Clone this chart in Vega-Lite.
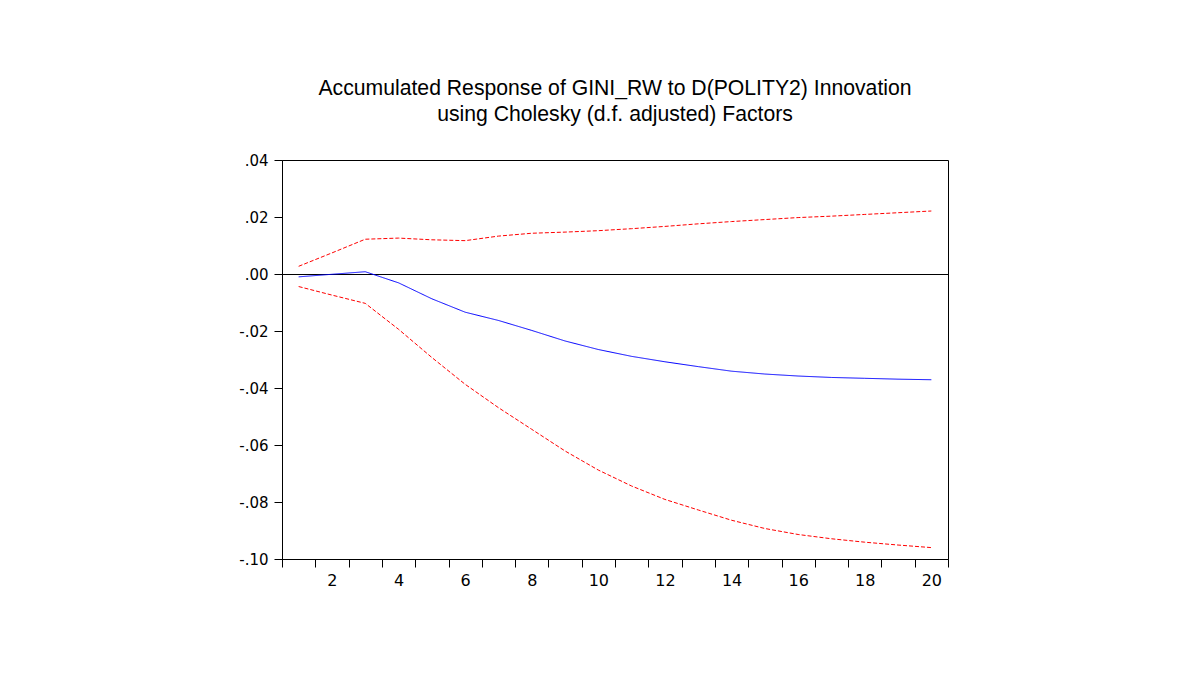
{
  "$schema": "https://vega.github.io/schema/vega-lite/v6.json",
  "width": 666,
  "height": 399,
  "autosize": "none",
  "padding": {"left": 282, "top": 160, "right": 233, "bottom": 139},
  "background": "white",
  "title": {
    "text": ["Accumulated Response of GINI_RW to D(POLITY2) Innovation", "using Cholesky (d.f. adjusted) Factors"],
    "anchor": "middle",
    "frame": "group",
    "font": "Liberation Sans",
    "fontSize": 21.2,
    "fontWeight": "normal",
    "color": "black",
    "lineHeight": 26,
    "offset": 28
  },
  "config": {
    "view": {"stroke": "black", "strokeWidth": 1},
    "axis": {
      "labelFont": "DejaVu Sans",
      "labelColor": "black",
      "domainColor": "black",
      "tickColor": "black",
      "grid": false,
      "title": null
    }
  },
  "data": {
    "values": [
      {"period": 1, "series": "Response", "value": -0.0010},
      {"period": 2, "series": "Response", "value": -0.0001},
      {"period": 3, "series": "Response", "value": 0.0008},
      {"period": 4, "series": "Response", "value": -0.0031},
      {"period": 5, "series": "Response", "value": -0.0087},
      {"period": 6, "series": "Response", "value": -0.0134},
      {"period": 7, "series": "Response", "value": -0.0163},
      {"period": 8, "series": "Response", "value": -0.0198},
      {"period": 9, "series": "Response", "value": -0.0235},
      {"period": 10, "series": "Response", "value": -0.0265},
      {"period": 11, "series": "Response", "value": -0.0289},
      {"period": 12, "series": "Response", "value": -0.0308},
      {"period": 13, "series": "Response", "value": -0.0325},
      {"period": 14, "series": "Response", "value": -0.0341},
      {"period": 15, "series": "Response", "value": -0.0351},
      {"period": 16, "series": "Response", "value": -0.0358},
      {"period": 17, "series": "Response", "value": -0.0363},
      {"period": 18, "series": "Response", "value": -0.0366},
      {"period": 19, "series": "Response", "value": -0.0369},
      {"period": 20, "series": "Response", "value": -0.0371},
      {"period": 1, "series": "Upper", "value": 0.0027},
      {"period": 2, "series": "Upper", "value": 0.0074},
      {"period": 3, "series": "Upper", "value": 0.0122},
      {"period": 4, "series": "Upper", "value": 0.0126},
      {"period": 5, "series": "Upper", "value": 0.0120},
      {"period": 6, "series": "Upper", "value": 0.0117},
      {"period": 7, "series": "Upper", "value": 0.0133},
      {"period": 8, "series": "Upper", "value": 0.0143},
      {"period": 9, "series": "Upper", "value": 0.0147},
      {"period": 10, "series": "Upper", "value": 0.0152},
      {"period": 11, "series": "Upper", "value": 0.0159},
      {"period": 12, "series": "Upper", "value": 0.0167},
      {"period": 13, "series": "Upper", "value": 0.0176},
      {"period": 14, "series": "Upper", "value": 0.0184},
      {"period": 15, "series": "Upper", "value": 0.0191},
      {"period": 16, "series": "Upper", "value": 0.0198},
      {"period": 17, "series": "Upper", "value": 0.0203},
      {"period": 18, "series": "Upper", "value": 0.0209},
      {"period": 19, "series": "Upper", "value": 0.0215},
      {"period": 20, "series": "Upper", "value": 0.0221},
      {"period": 1, "series": "Lower", "value": -0.0044},
      {"period": 2, "series": "Lower", "value": -0.0074},
      {"period": 3, "series": "Lower", "value": -0.0103},
      {"period": 4, "series": "Lower", "value": -0.0194},
      {"period": 5, "series": "Lower", "value": -0.0293},
      {"period": 6, "series": "Lower", "value": -0.0387},
      {"period": 7, "series": "Lower", "value": -0.0469},
      {"period": 8, "series": "Lower", "value": -0.0545},
      {"period": 9, "series": "Lower", "value": -0.0621},
      {"period": 10, "series": "Lower", "value": -0.0688},
      {"period": 11, "series": "Lower", "value": -0.0744},
      {"period": 12, "series": "Lower", "value": -0.0791},
      {"period": 13, "series": "Lower", "value": -0.0828},
      {"period": 14, "series": "Lower", "value": -0.0864},
      {"period": 15, "series": "Lower", "value": -0.0893},
      {"period": 16, "series": "Lower", "value": -0.0914},
      {"period": 17, "series": "Lower", "value": -0.0929},
      {"period": 18, "series": "Lower", "value": -0.0941},
      {"period": 19, "series": "Lower", "value": -0.0951},
      {"period": 20, "series": "Lower", "value": -0.0960}
    ]
  },
  "layer": [
    {
      "mark": {"type": "rule", "color": "black", "strokeWidth": 1, "yOffset": 0.5},
      "encoding": {
        "y": {"datum": 0, "type": "quantitative", "scale": {"domain": [-0.1, 0.04], "nice": false, "zero": false}}
      }
    },
    {
      "mark": {"type": "line", "strokeWidth": 1, "clip": true},
      "encoding": {
        "x": {
          "field": "period",
          "type": "quantitative",
          "scale": {"domain": [0.5, 20.5], "nice": false, "zero": false},
          "axis": {
            "values": [0.5, 1.5, 2.5, 3.5, 4.5, 5.5, 6.5, 7.5, 8.5, 9.5, 10.5, 11.5, 12.5, 13.5, 14.5, 15.5, 16.5, 17.5, 18.5, 19.5, 20.5],
            "labels": false,
            "tickSize": 8,
            "domain": true
          }
        },
        "y": {
          "field": "value",
          "type": "quantitative",
          "scale": {"domain": [-0.1, 0.04], "nice": false, "zero": false},
          "axis": {
            "values": [-0.1, -0.08, -0.06, -0.04, -0.02, 0, 0.02, 0.04],
            "labelExpr": "replace(replace(format(datum.value, '.2f'), '\u2212', '-'), '0.', '.')",
            "tickSize": 8,
            "labelPadding": 6,
            "labelFontSize": 15
          }
        },
        "color": {
          "field": "series",
          "type": "nominal",
          "scale": {"domain": ["Response", "Upper", "Lower"], "range": ["#0000FF", "#FF0000", "#FF0000"]},
          "legend": null
        },
        "strokeDash": {
          "field": "series",
          "type": "nominal",
          "scale": {"domain": ["Response", "Upper", "Lower"], "range": [[1, 0], [4, 2], [4, 2]]},
          "legend": null
        }
      }
    },
    {
      "mark": {"type": "rule", "opacity": 0},
      "encoding": {
        "x": {
          "datum": 2,
          "type": "quantitative",
          "axis": {
            "values": [2, 4, 6, 8, 10, 12, 14, 16, 18, 20],
            "ticks": false,
            "domain": false,
            "labelPadding": 13,
            "labelFontSize": 16,
            "orient": "bottom"
          }
        }
      }
    }
  ],
  "resolve": {"axis": {"x": "independent"}}
}
